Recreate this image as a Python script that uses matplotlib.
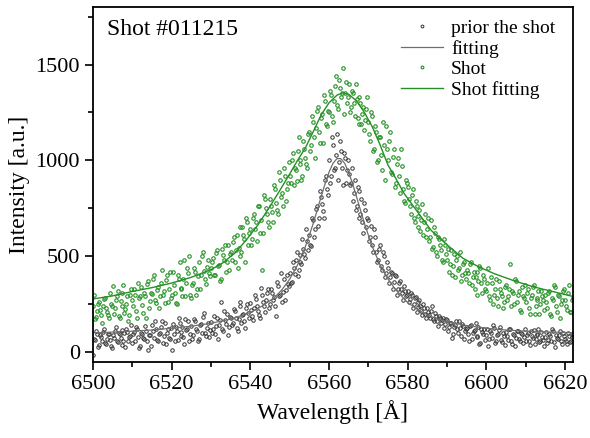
import numpy as np
import matplotlib
matplotlib.use('Agg')
import matplotlib.pyplot as plt
from matplotlib.ticker import MultipleLocator

plt.rcParams['font.family'] = ['Liberation Serif', 'DejaVu Serif']

# wavelength grid of the spectrometer [A] (two interleaved pixel rows)
wl_a = np.arange(6500.0, 6622.01, 0.5)
wl_b = np.arange(6500.25, 6622.0, 0.5)

# measured intensity before the shot
prior_a = [
    -15, 62, 95, 38, 80, 105, 45, 70, 92, 30,
    88, 110, 55, 100, 72, 35, 98, 120, 60, 84,
    45, 105, 130, 78, 30, 95, 68, 112, 10, 88,
    140, 75, 120, 55, 100, 160, 85, 40, 118, 70,
    10, 95, 130, 62, 150, 105, 80, 170, 120, 58,
    135, 90, 160, 110, 70, 145, 185, 100, 128, 80,
    155, 120, 95, 175, 140, 260, 110, 165, 200, 130,
    180, 150, 215, 125, 170, 240, 195, 160, 230, 205,
    255, 190, 230, 275, 215, 180, 300, 240, 270, 330,
    250, 310, 285, 190, 345, 300, 260, 380, 325, 355,
    410, 365, 440, 480, 395, 505, 460, 540, 490, 580,
    610, 555, 690, 640, 760, 700, 810, 735, 900, 850,
    1000, 920, 1080, 960, 1140, 990, 1050, 870, 1010, 950,
    930, 880, 790, 900, 760, 840, 720, 680, 780, 650,
    690, 600, 560, 640, 520, 480, 560, 430, 500, 410,
    440, 390, 410, 365, 395, 330, 370, 310, 345, 290,
    320, 275, 300, 250, 285, 235, 270, 215, 250, 200,
    230, 195, 215, 170, 205, 160, 190, 150, 180, 145,
    165, 130, 150, 95, 140, 120, 160, 85, 135, 110,
    125, 60, 140, 100, 115, 80, 130, 45, 105, 120,
    90, 30, 110, 75, 125, 60, 95, 130, 50, 85,
    105, 65, 120, 40, 90, 75, 110, 55, 95, 80,
    60, 100, 35, 85, 115, 70, 90, 50, 105, 65,
    80, 45, 95, 60, 110, 25, 75, 90, 55, 100,
    70, 40, 85, 60, 95,
]
prior_b = [
    70, 110, 25, 88, 55, 120, 40, 95, 65, 20,
    75, 130, 50, 95, 115, 60, 25, 105, 80, 140,
    95, 60, 120, 20, 100, 75, 135, 55, 90, 30,
    110, 160, 65, 95, 130, 45, 150, 100, 75, 125,
    145, 60, 110, 175, 85, 130, 40, 115, 160, 95,
    70, 170, 120, 60, 140, 100, 205, 85, 150, 115,
    100, 190, 135, 70, 165, 120, 215, 145, 90, 185,
    140, 225, 175, 110, 260, 150, 200, 125, 250, 180,
    220, 165, 300, 240, 195, 335, 260, 210, 310, 230,
    330, 270, 240, 365, 290, 410, 315, 270, 400, 345,
    360, 470, 405, 520, 430, 470, 590, 510, 640, 530,
    560, 700, 600, 745, 660, 840, 770, 700, 920, 820,
    880, 1120, 950, 1030, 900, 1100, 960, 1040, 880, 1000,
    870, 960, 830, 740, 860, 700, 800, 620, 740, 700,
    580, 660, 520, 600, 470, 540, 450, 520, 390, 470,
    360, 420, 330, 400, 300, 360, 330, 270, 320, 300,
    260, 310, 230, 280, 210, 260, 240, 195, 230, 180,
    210, 175, 240, 160, 190, 135, 175, 165, 125, 170,
    110, 150, 75, 130, 160, 100, 125, 145, 70, 120,
    95, 135, 70, 110, 150, 85, 40, 120, 95, 65,
    120, 70, 100, 140, 45, 90, 115, 65, 100, 35,
    85, 120, 60, 95, 30, 110, 70, 100, 45, 120,
    90, 55, 110, 75, 40, 95, 120, 60, 80, 30,
    105, 65, 85, 120, 50, 90, 70, 110, 40, 85,
    60, 100, 50, 80,
]

# measured intensity during the shot
shot_a = [
    240, 170, 215, 260, 195, 240, 280, 210, 175, 250,
    345, 230, 290, 190, 265, 310, 205, 250, 160, 300,
    270, 330, 215, 360, 290, 245, 310, 180, 370, 265,
    305, 400, 255, 340, 290, 430, 320, 375, 260, 415,
    300, 350, 255, 400, 470, 330, 380, 290, 440, 500,
    280, 360, 420, 330, 470, 400, 520, 380, 445, 410,
    440, 490, 400, 530, 455, 380, 505, 560, 470, 430,
    520, 575, 470, 610, 545, 500, 650, 590, 700, 560,
    640, 590, 720, 680, 760, 620, 430, 820, 750, 680,
    800, 730, 870, 780, 720, 900, 830, 960, 790, 880,
    920, 1000, 870, 950, 1050, 980, 900, 1100, 1010, 960,
    1150, 1080, 1200, 1010, 1260, 1150, 1220, 1090, 1310, 1180,
    1250, 1340, 1200, 1390, 1290, 1420, 1330, 1480, 1350, 1300,
    1400, 1280, 1350, 1230, 1320, 1190, 1300, 1240, 1160, 1270,
    1200, 1100, 1230, 1060, 1150, 1000, 1120, 950, 1080, 1180,
    1000, 1150, 930, 1060, 880, 1010, 830, 970, 790, 900,
    860, 760, 820, 700, 790, 650, 740, 690, 610, 720,
    640, 580, 690, 550, 620, 500, 590, 530, 470, 560,
    480, 420, 530, 450, 390, 500, 440, 370, 460, 410,
    430, 360, 470, 390, 330, 420, 370, 440, 310, 380,
    320, 440, 270, 360, 300, 380, 240, 330, 290, 260,
    350, 290, 460, 320, 250, 370, 300, 220, 340, 280,
    260, 330, 200, 300, 350, 240, 280, 200, 320, 270,
    300, 230, 320, 190, 270, 340, 210, 290, 250, 320,
    270, 220, 350, 210, 280,
]
shot_b = [
    300, 185, 250, 220, 150, 275, 230, 195, 310, 240,
    200, 270, 320, 180, 240, 350, 225, 290, 195, 330,
    240, 300, 175, 280, 340, 205, 290, 355, 230, 310,
    380, 270, 325, 230, 360, 300, 255, 400, 330, 280,
    420, 310, 250, 380, 335, 290, 480, 360, 410, 300,
    350, 440, 300, 395, 330, 500, 425, 355, 480, 395,
    470, 400, 515, 450, 370, 540, 480, 420, 560, 510,
    480, 600, 530, 440, 650, 520, 610, 470, 680, 620,
    560, 700, 640, 580, 760, 690, 620, 800, 720, 650,
    760, 680, 850, 740, 940, 810, 760, 920, 850, 990,
    880, 1040, 960, 890, 1120, 1000, 920, 1060, 980, 1140,
    1050, 1230, 1120, 1170, 1280, 1090, 1240, 1340, 1190, 1260,
    1360, 1230, 1310, 1440, 1270, 1380, 1350, 1240, 1410, 1330,
    1250, 1360, 1300, 1400, 1220, 1330, 1190, 1280, 1210, 1330,
    1140, 1250, 1050, 1180, 990, 1120, 1030, 1200, 900, 1060,
    1100, 940, 1020, 860, 980, 920, 1060, 850, 780, 880,
    800, 720, 850, 680, 760, 710, 630, 770, 680, 600,
    700, 600, 540, 650, 520, 600, 560, 480, 590, 510,
    540, 460, 400, 510, 480, 430, 520, 400, 470, 380,
    410, 460, 350, 420, 390, 300, 450, 360, 400, 330,
    360, 290, 390, 250, 330, 280, 370, 310, 230, 340,
    270, 330, 240, 310, 380, 260, 320, 210, 290, 350,
    310, 230, 280, 340, 200, 270, 320, 250, 290, 220,
    260, 310, 200, 280, 350, 240, 300, 180, 270, 330,
    240, 310, 210, 270,
]

# fitted profiles
fit_wl = [6500, 6505, 6510, 6515, 6520, 6525, 6530, 6535, 6540, 6543,
          6546, 6548, 6550, 6552, 6554, 6556, 6558, 6559, 6560, 6561,
          6562, 6563, 6564, 6565, 6566, 6567, 6569, 6571, 6573, 6575,
          6577, 6580, 6583, 6586, 6590, 6595, 6600, 6605, 6610, 6615, 6622]
fit_prior = [100, 104, 109, 115, 124, 135, 150, 172, 206, 240,
             282, 324, 380, 454, 550, 671, 810, 878, 938, 984,
             1009, 1009, 984, 938, 878, 810, 671, 550, 454, 380,
             324, 258, 215, 185, 158, 138, 124, 115, 109, 105, 101]

fit_shot_wl = [6500, 6505, 6510, 6515, 6520, 6525, 6530, 6533, 6536, 6539,
               6542, 6545, 6548, 6550, 6552, 6554, 6556, 6558, 6560, 6562,
               6563.5, 6565, 6567, 6569, 6571, 6573, 6575, 6577, 6579, 6582,
               6586, 6590, 6594, 6598, 6602, 6607, 6612, 6617, 6622]
fit_shot = [277, 293, 316, 336, 360, 390, 430, 465, 515, 585,
            665, 760, 860, 929, 1000, 1065, 1150, 1237, 1300, 1340,
            1352, 1345, 1310, 1250, 1175, 1080, 975, 905, 830, 745,
            634, 560, 490, 445, 409, 372, 340, 315, 290]

grey = '#6e6e6e'
green = '#239023'

wl = np.concatenate([wl_a, wl_b])
prior = np.concatenate([prior_a, prior_b])
shot = np.concatenate([shot_a, shot_b])

fig = plt.figure(figsize=(5.9, 4.38), dpi=100)
ax = fig.add_axes([0.1576, 0.1735, 0.8134, 0.8105])

ax.plot(wl, prior, 'o', ls='none', ms=2.5, mfc='none', mec='#333333', mew=0.7,
        label='prior the shot')
ax.plot(fit_wl, fit_prior, '-', color=grey, lw=0.9, label='fitting')
ax.plot(wl, shot, 'o', ls='none', ms=2.5, mfc='none', mec=green, mew=0.8,
        label='Shot')
ax.plot(fit_shot_wl, fit_shot, '-', color=green, lw=1.0, label='Shot fitting')

ax.set_xlim(6500, 6622)
ax.set_ylim(-52, 1800)
ax.xaxis.set_major_locator(MultipleLocator(20))
ax.xaxis.set_minor_locator(MultipleLocator(10))
ax.yaxis.set_major_locator(MultipleLocator(500))
ax.yaxis.set_minor_locator(MultipleLocator(250))
ax.tick_params(which='both', direction='out', width=1.2, labelsize=16)
ax.tick_params(which='major', length=6)
ax.tick_params(which='minor', length=3.5)
for s in ax.spines.values():
    s.set_linewidth(1.3)

ax.set_xlabel('Wavelength [Å]', fontsize=17)
ax.set_ylabel('Intensity [a.u.]', fontsize=17)
ax.text(0.03, 0.965, 'Shot #011215', transform=ax.transAxes, fontsize=17,
        va='top', ha='left')

ax.legend(loc='upper right', bbox_to_anchor=(1.0, 1.015), frameon=False,
          fontsize=14, handlelength=2.2, handletextpad=0.4, labelspacing=0.15,
          markerscale=0.8, numpoints=1)

fig.savefig('out.png', dpi=100)
